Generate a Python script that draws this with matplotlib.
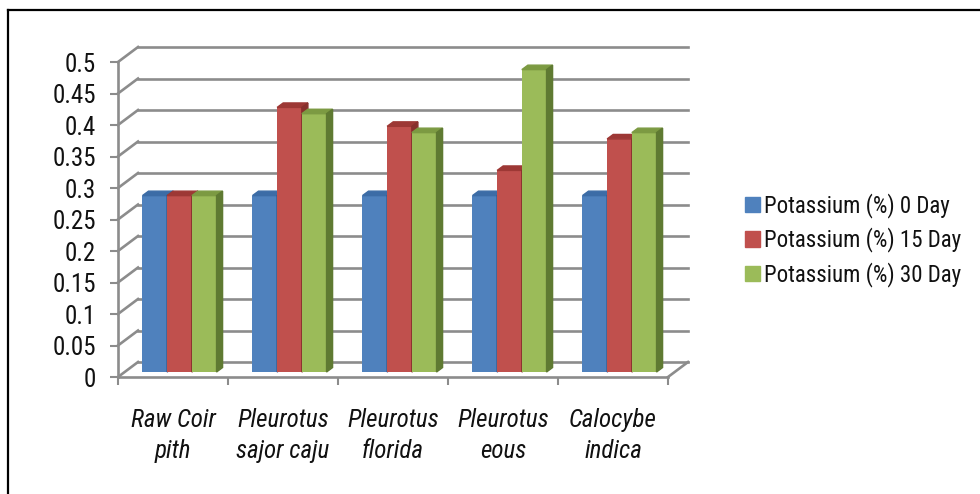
import matplotlib
matplotlib.use("Agg")
import matplotlib.pyplot as plt
from matplotlib import font_manager
from matplotlib.patches import Polygon, Patch
from matplotlib.lines import Line2D

# narrow face if one is installed
nomes = {f.name for f in font_manager.fontManager.ttflist}
fonte = 'DejaVu Sans'
for cand in ['Liberation Sans Narrow', 'Roboto Condensed', 'DejaVu Sans Condensed', 'Liberation Sans']:
    if cand in nomes:
        fonte = cand
        break
plt.rcParams['font.family'] = [fonte, 'DejaVu Sans']

# dados
categorias = ['Raw Coir\npith', 'Pleurotus\nsajor caju', 'Pleurotus\nflorida', 'Pleurotus\neous', 'Calocybe\nindica']
series = ['Potassium (%) 0 Day', 'Potassium (%) 15 Day', 'Potassium (%) 30 Day']
k_0dia = [0.28, 0.28, 0.28, 0.28, 0.28]
k_15dia = [0.28, 0.42, 0.39, 0.32, 0.37]
k_30dia = [0.28, 0.41, 0.38, 0.48, 0.38]
yticks = [0, 0.05, 0.1, 0.15, 0.2, 0.25, 0.3, 0.35, 0.4, 0.45, 0.5]

# cores (frente, topo, lado)
cores = [('#4F81BD', '#3C6CA6', '#2F5687'),
         ('#C0504D', '#9D3835', '#87302D'),
         ('#9BBB59', '#7C9A42', '#5F7A32')]

GRID = '#8C8C8C'
DX, DY = 0.182, 0.0238      # profundidade da parede do fundo
BDX, BDY = 0.055, 0.0071    # profundidade de cada barra
BX, BY = 0.059, 0.0079      # deslocamento das barras para dentro
BW = 0.2245

fig = plt.figure(figsize=(9.8, 4.94), dpi=100)
ax = fig.add_axes([118/980, 117/494, 550/980, 315/494])
ax.set_xlim(-0.5, 4.5)
ax.set_ylim(0, 0.5)

# paredes com grade
for v in yticks:
    ax.plot([-0.5 + DX, 4.5 + DX], [v + DY, v + DY], color=GRID, lw=1.9, clip_on=False, zorder=1)
    ax.plot([-0.5, -0.5 + DX], [v, v + DY], color=GRID, lw=1.9, clip_on=False, zorder=1)
ax.plot([4.5, 4.5 + DX], [0, DY], color=GRID, lw=1.9, clip_on=False, zorder=1)

# barras "3D"
idx = list(range(len(categorias)))
for k, valores in enumerate([k_0dia, k_15dia, k_30dia]):
    frente, topo, lado = cores[k]
    xs = [i + BX + (k - 1) * BW for i in idx]
    barras = ax.bar(xs, valores, width=BW, bottom=BY, color=frente, zorder=3 + k, clip_on=False)
    for b in barras:
        xl = b.get_x()
        xr = xl + b.get_width()
        y0 = b.get_y()
        y1 = y0 + b.get_height()
        ax.add_patch(Polygon([(xl, y1), (xl + BDX, y1 + BDY), (xr + BDX, y1 + BDY), (xr, y1)],
                             closed=True, color=topo, zorder=3 + k, clip_on=False))
        ax.add_patch(Polygon([(xr, y0), (xr + BDX, y0 + BDY), (xr + BDX, y1 + BDY), (xr, y1)],
                             closed=True, color=lado, zorder=3 + k, clip_on=False))

# eixos
for s in ['top', 'right']:
    ax.spines[s].set_visible(False)
for s in ['left', 'bottom']:
    ax.spines[s].set_color(GRID)
    ax.spines[s].set_linewidth(1.9)
    ax.spines[s].set_zorder(2)
ax.set_yticks(yticks)
ax.set_yticklabels([f'{v:g}' for v in yticks])
ax.tick_params(axis='y', direction='out', length=5.8, width=1.5, color=GRID, pad=10,
               labelsize=18, labelcolor='#111111')
ax.set_xticks([-0.5, 0.5, 1.5, 2.5, 3.5, 4.5])
ax.set_xticklabels([])
ax.tick_params(axis='x', which='major', direction='out', length=6, width=1.5, color=GRID)
ax.set_xticks(idx, minor=True)
ax.set_xticklabels(categorias, minor=True, fontstyle='italic', fontsize=18, linespacing=1.38,
                   color='#111111')
ax.tick_params(axis='x', which='minor', length=0, pad=22)
ax.set_facecolor('none')

# legenda
alcas = [Patch(color=c[0]) for c in cores]
leg = fig.legend(alcas, series, loc='center left', bbox_to_anchor=(745/980, 1 - 240/494),
                 frameon=False, fontsize=16.5, handlelength=0.66, handleheight=0.66,
                 handletextpad=0.15, labelspacing=0.42, borderpad=0, borderaxespad=0)
for t in leg.get_texts():
    t.set_color('#111111')

# moldura (so topo e esquerda)
fig.add_artist(Line2D([8/980, 8/980], [0, 1 - 10/494], color='black', lw=1.6))
fig.add_artist(Line2D([8/980, 1], [1 - 10/494, 1 - 10/494], color='black', lw=1.6))

fig.savefig('out.png', dpi=100)
